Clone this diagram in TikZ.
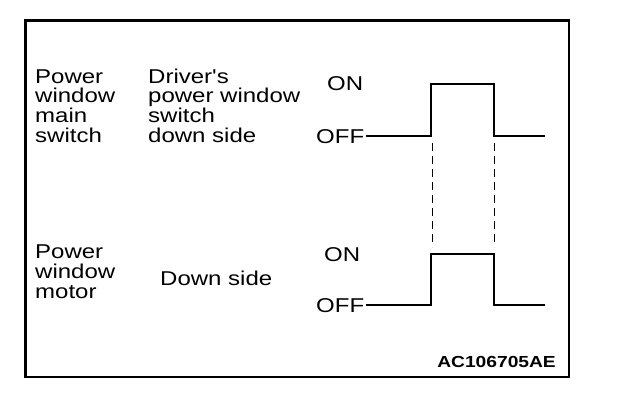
\documentclass[tikz,border=0pt]{standalone}
\usepackage{fontspec}
\newfontfamily\lbfont[FakeStretch=1.2]{Liberation Sans}
\begin{document}
\begin{tikzpicture}[x=1pt,y=-1pt,
  lbl/.style={inner sep=0pt, font=\lbfont\fontsize{20}{19.6}\selectfont, align=left, anchor=base west},
  code/.style={inner sep=0pt, font=\lbfont\bfseries\fontsize{16}{16}\selectfont, anchor=base east},
  wave/.style={line width=2.8pt, line join=miter},
  guide/.style={line width=0.9pt, dash pattern=on 8pt off 5pt}]
\useasboundingbox (0,0) rectangle (624,408);
\draw[line width=2.8pt] (25.5,20.5) rectangle (569,377);
% left labels (anchored at the baseline of the last line)
\node[lbl] (mainsw) at (35,142) {Power\\window\\main\\switch};
\node[lbl] (drvsw) at (148,142) {Driver's\\power window\\switch\\down side};
\node[lbl] (motor) at (35,298) {Power\\window\\motor};
\node[lbl] (down) at (160,285) {Down side};
% level labels
\node[lbl] (on1) at (327,90) {ON};
\node[lbl] (off1) at (316,143) {OFF};
\node[lbl] (on2) at (324,261) {ON};
\node[lbl] (off2) at (316,312) {OFF};
% waveforms
\coordinate (r1) at (431,136);
\coordinate (f1) at (494,136);
\coordinate (e1) at (545,136);
\coordinate (r2) at (431,305);
\coordinate (f2) at (494,305);
\coordinate (e2) at (545,305);
\draw[wave] ([xshift=2pt]off1.east |- r1) -- (r1) -- (431,84) -- (494,84) -- (f1) -- (e1);
\draw[wave] ([xshift=2pt]off2.east |- r2) -- (r2) -- (431,254) -- (494,254) -- (f2) -- (e2);
% guides
\draw[guide] (432,143) -- (432,247);
\draw[guide] (494,143) -- (494,247);
\node[code] (id) at (556,367) {AC106705AE};
\end{tikzpicture}
\end{document}
